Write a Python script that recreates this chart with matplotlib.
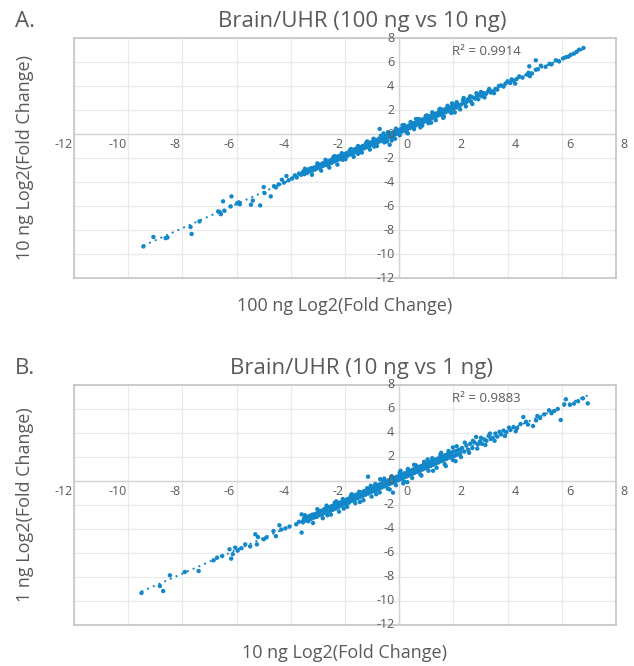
import matplotlib
matplotlib.use("Agg")
import matplotlib.pyplot as plt
import numpy as np

plt.rcParams['font.family'] = ['Open Sans', 'DejaVu Sans']

# ---- data: (100 ng, 10 ng) log2 fold changes ----
panel_a_points = [
    # lower tail
    (-9.44, -9.37), (-9.07, -8.58), (-8.62, -8.68), (-8.55, -8.62), (-7.70, -7.75),
    (-7.66, -8.33), (-7.37, -7.28), (-6.68, -6.45), (-6.62, -6.52), (-6.58, -6.68),
    (-6.50, -5.61), (-6.45, -6.40), (-6.19, -5.20), (-6.22, -6.03), (-5.98, -5.78),
    (-5.92, -5.70), (-5.88, -5.85), (-5.47, -5.89), (-5.40, -5.55), (-5.13, -5.95),
    (-5.00, -4.42), (-4.97, -4.92), (-4.74, -5.20), (-4.62, -4.35), (-4.55, -4.45),
    (-4.45, -4.20), (-4.33, -3.81), (-4.25, -4.05), (-4.16, -3.50), (-4.08, -3.85),
    (-3.95, -3.70), (-3.85, -3.45), (-3.78, -3.62), (-3.70, -3.30),
    # dense band
    (-3.62, -3.40), (-3.55, -3.15), (-3.50, -3.35), (-3.45, -3.10), (-3.40, -3.25),
    (-3.35, -2.95), (-3.30, -3.10), (-3.25, -2.85), (-3.20, -3.05), (-3.15, -2.80),
    (-3.10, -2.95), (-3.05, -2.70), (-3.00, -2.85), (-2.95, -2.55), (-2.90, -2.75),
    (-2.85, -2.50), (-2.80, -2.65), (-2.75, -2.40), (-2.70, -2.55), (-2.65, -2.30),
    (-2.60, -2.50), (-2.55, -2.20), (-2.50, -2.40), (-2.45, -2.05), (-2.40, -2.30),
    (-2.35, -2.00), (-2.30, -2.20), (-2.25, -1.85), (-2.20, -2.10), (-2.15, -1.80),
    (-2.10, -1.95), (-2.05, -1.70), (-2.00, -1.85), (-1.95, -1.60), (-1.90, -1.80),
    (-1.85, -1.50), (-1.80, -1.70), (-1.75, -1.40), (-1.70, -1.60), (-1.65, -1.30),
    (-1.60, -1.50), (-1.55, -1.20), (-1.50, -1.40), (-1.45, -1.10), (-1.40, -1.30),
    (-1.35, -1.00), (-1.30, -1.20), (-1.25, -0.90), (-1.20, -1.10), (-1.15, -0.80),
    (-1.10, -1.00), (-1.05, -0.70), (-1.00, -0.90), (-0.95, -0.60), (-0.90, -0.80),
    (-0.85, -0.50), (-0.80, -0.70), (-0.75, -0.40), (-0.70, -0.60), (-0.65, -0.30),
    (-0.60, -0.50), (-0.55, -0.20), (-0.50, -0.40), (-0.45, -0.10), (-0.40, -0.30),
    (-0.35, 0.00), (-0.30, -0.20), (-0.25, 0.10), (-0.20, -0.10), (-0.15, 0.20),
    (-0.10, 0.00), (-0.05, 0.30), (0.00, 0.10), (0.05, 0.40), (0.10, 0.20),
    (0.15, 0.50), (0.20, 0.30), (0.25, 0.60), (0.30, 0.40), (0.35, 0.70),
    (0.40, 0.50), (0.45, 0.80), (0.50, 0.60), (0.55, 0.90), (0.60, 0.70),
    (0.65, 1.00), (0.70, 0.80), (0.75, 1.10), (0.80, 0.90), (0.85, 1.20),
    (0.90, 1.00), (0.95, 1.30), (1.00, 1.10), (1.05, 1.40), (1.10, 1.20),
    (1.15, 1.50), (1.20, 1.30), (1.25, 1.60), (1.30, 1.40), (1.35, 1.70),
    (1.40, 1.50), (1.45, 1.80), (1.50, 1.60), (1.55, 1.90), (1.60, 1.70),
    (1.65, 2.00), (1.70, 1.80), (1.75, 2.10), (1.80, 1.90), (1.85, 2.20),
    (1.90, 2.00), (1.95, 2.30), (2.00, 2.10), (2.05, 2.40), (2.10, 2.20),
    (2.15, 2.50), (2.20, 2.30),
    (-2.48, -2.20), (-2.32, -2.15), (-2.18, -1.95), (-2.02, -1.90), (-1.88, -1.62),
    (-1.72, -1.45), (-1.58, -1.35), (-1.42, -1.25), (-1.28, -1.05), (-1.12, -0.92),
    (-0.98, -0.75), (-0.82, -0.62), (-0.68, -0.42), (-0.52, -0.30), (-0.38, -0.12),
    (-0.22, 0.05), (-0.08, 0.15), (0.08, 0.32), (0.22, 0.45), (0.38, 0.62),
    (0.52, 0.75), (0.68, 0.88), (0.82, 1.05), (0.98, 1.22), (1.12, 1.35),
    (1.28, 1.52), (1.42, 1.65), (1.58, 1.82), (1.72, 1.95), (1.88, 2.12),
    (-2.62, -2.65), (-2.38, -1.85), (-2.08, -2.15), (-1.78, -1.25), (-1.52, -1.65),
    (-1.18, -0.62), (-0.92, -1.05), (-0.58, 0.05), (-0.72, 0.42), (-0.35, -0.90),
    (-0.45, -0.62), (-0.28, -0.55), (-0.15, -0.40), (0.12, 0.72), (0.32, 0.05),
    (0.62, 1.25), (0.78, 0.55), (1.02, 1.55), (1.18, 0.95), (1.48, 2.05),
    (1.62, 1.35), (1.95, 2.55), (2.05, 1.80),
    (-3.48, -2.90), (-3.22, -3.40), (-3.02, -2.45), (-2.88, -3.05), (-2.72, -2.15),
    (-2.58, -2.80), (-2.42, -1.90), (-2.28, -2.55), (-2.12, -1.60), (-1.98, -2.10),
    (-1.82, -1.35), (-1.68, -1.90), (-1.52, -1.00), (-1.38, -1.55), (-1.22, -0.75),
    (-1.08, -1.30), (-0.95, -0.40), (-0.82, -1.00), (-0.68, -0.15), (-0.55, -0.70),
    (-0.42, 0.15), (-0.25, -0.35), (-0.12, 0.45), (0.02, -0.10), (0.18, 0.75),
    (0.28, 0.15), (0.42, 1.00), (0.55, 0.40), (0.72, 1.25), (0.85, 0.70),
    (0.98, 1.50), (1.08, 0.90), (1.22, 1.80), (1.35, 1.15), (1.52, 2.10),
    (1.65, 1.45), (1.78, 2.35), (1.92, 1.75), (2.12, 2.65), (2.25, 2.05),
    (-0.88, -0.55), (-0.62, -0.25), (-0.32, 0.05), (0.12, 0.45), (0.48, 0.85),
    (0.92, 1.15), (1.32, 1.60), (1.68, 2.05), (-1.62, -1.25), (-2.22, -1.85),
    (-2.82, -2.45),
    # upper tail
    (2.28, 2.45), (2.35, 2.80), (2.42, 2.55), (2.50, 2.70), (2.53, 2.86),
    (2.58, 2.95), (2.65, 2.70), (2.72, 3.05), (2.80, 2.95), (2.88, 3.20),
    (2.96, 3.28), (3.05, 3.15), (3.12, 3.40), (3.20, 3.35), (3.28, 3.55),
    (3.38, 3.45), (3.45, 3.55), (3.55, 3.75), (3.62, 3.70), (3.76, 4.05),
    (3.85, 3.95), (4.00, 4.39), (4.10, 4.25), (4.22, 4.45), (4.33, 4.58),
    (4.43, 4.80), (4.55, 4.70), (4.72, 4.95), (4.77, 5.10), (4.80, 5.64),
    (4.82, 4.82), (4.90, 5.05), (5.04, 6.14), (5.04, 5.36), (5.12, 5.40),
    (5.23, 5.69), (5.40, 5.60), (5.55, 5.85), (5.62, 5.80), (5.78, 6.14),
    (5.90, 6.05), (6.05, 6.30), (6.15, 6.40), (6.25, 6.45), (6.33, 6.60),
    (6.45, 6.70), (6.55, 6.85), (6.64, 7.03), (6.80, 7.17),
    (2.38, 3.00), (2.46, 2.30), (2.62, 3.15), (2.70, 2.50), (2.85, 3.40),
    (2.92, 2.90), (3.02, 3.50), (3.15, 3.05), (3.32, 3.75), (3.50, 3.40),
    (3.68, 4.00), (3.92, 4.20), (4.15, 4.55), (4.28, 4.20),
]

# ---- (10 ng, 1 ng) log2 fold changes ----
panel_b_points = [
    # lower tail
    (-9.51, -9.33), (-8.83, -8.75), (-8.71, -9.17), (-8.46, -7.86), (-7.91, -7.58),
    (-7.40, -7.50), (-6.85, -6.61), (-6.72, -6.39), (-6.53, -6.25), (-6.26, -5.69),
    (-6.20, -6.47), (-6.14, -6.10), (-6.05, -5.55), (-5.96, -5.80), (-5.82, -5.60),
    (-5.68, -5.28), (-5.50, -5.45), (-5.31, -4.44), (-5.25, -5.28), (-5.21, -4.67),
    (-5.00, -4.86), (-4.90, -4.70), (-4.64, -4.17), (-4.55, -4.60), (-4.42, -3.69),
    (-4.35, -4.05), (-4.20, -3.95), (-4.05, -3.80), (-3.80, -3.61), (-3.70, -3.40),
    (-3.60, -2.78), (-3.60, -4.30), (-3.52, -3.20),
    # dense band
    (-3.55, -3.45), (-3.50, -3.10), (-3.45, -3.30), (-3.40, -3.00), (-3.35, -3.35),
    (-3.30, -2.90), (-3.25, -3.15), (-3.20, -2.80), (-3.15, -3.05), (-3.10, -2.75),
    (-3.05, -3.00), (-3.00, -2.60), (-2.95, -2.85), (-2.90, -2.50), (-2.85, -2.80),
    (-2.80, -2.40), (-2.75, -2.65), (-2.70, -2.30), (-2.65, -2.55), (-2.60, -2.20),
    (-2.55, -2.50), (-2.50, -2.10), (-2.45, -2.40), (-2.40, -2.00), (-2.35, -2.30),
    (-2.30, -1.90), (-2.25, -2.20), (-2.20, -1.80), (-2.15, -2.05), (-2.10, -1.70),
    (-2.05, -1.95), (-2.00, -1.60), (-1.95, -1.90), (-1.90, -1.50), (-1.85, -1.80),
    (-1.80, -1.35), (-1.75, -1.65), (-1.70, -1.30), (-1.65, -1.55), (-1.60, -1.15),
    (-1.55, -1.45), (-1.50, -1.05), (-1.45, -1.35), (-1.40, -0.95), (-1.35, -1.25),
    (-1.30, -0.85), (-1.25, -1.15), (-1.20, -0.75), (-1.15, -1.05), (-1.10, -0.65),
    (-1.05, -0.95), (-1.00, -0.55), (-0.95, -0.85), (-0.90, -0.45), (-0.85, -0.75),
    (-0.80, -0.35), (-0.75, -0.65), (-0.70, -0.25), (-0.65, -0.55), (-0.60, -0.15),
    (-0.55, -0.45), (-0.50, -0.05), (-0.45, -0.35), (-0.40, 0.05), (-0.35, -0.25),
    (-0.30, 0.15), (-0.25, -0.15), (-0.20, 0.25), (-0.15, -0.05), (-0.10, 0.35),
    (-0.05, 0.05), (0.00, 0.45), (0.05, 0.15), (0.10, 0.55), (0.15, 0.25),
    (0.20, 0.65), (0.25, 0.35), (0.30, 0.75), (0.35, 0.45), (0.40, 0.85),
    (0.45, 0.55), (0.50, 0.95), (0.55, 0.65), (0.60, 1.05), (0.65, 0.75),
    (0.70, 1.15), (0.75, 0.85), (0.80, 1.25), (0.85, 0.95), (0.90, 1.35),
    (0.95, 1.05), (1.00, 1.45), (1.05, 1.15), (1.10, 1.55), (1.15, 1.25),
    (1.20, 1.65), (1.25, 1.35), (1.30, 1.75), (1.35, 1.45), (1.40, 1.85),
    (1.45, 1.55), (1.50, 1.95), (1.55, 1.65), (1.60, 2.05), (1.65, 1.75),
    (1.70, 2.15), (1.75, 1.85), (1.80, 2.25), (1.85, 1.95), (1.90, 2.35),
    (1.95, 2.05), (2.00, 2.45), (2.05, 2.10), (2.10, 2.50), (2.15, 2.20),
    (2.20, 2.60),
    (-2.42, -2.22), (-2.28, -2.08), (-2.12, -1.88), (-1.98, -1.78), (-1.82, -1.58),
    (-1.68, -1.48), (-1.52, -1.28), (-1.38, -1.12), (-1.22, -0.98), (-1.08, -0.82),
    (-0.92, -0.68), (-0.78, -0.52), (-0.62, -0.38), (-0.48, -0.22), (-0.32, -0.08),
    (-0.18, 0.08), (-0.02, 0.22), (0.12, 0.38), (0.28, 0.52), (0.42, 0.68),
    (0.58, 0.82), (0.72, 0.98), (0.88, 1.12), (1.02, 1.28), (1.18, 1.42),
    (1.32, 1.58), (1.48, 1.72), (1.62, 1.88), (1.78, 2.02), (1.92, 2.18),
    (-2.65, -2.85), (-2.32, -1.70), (-2.05, -2.30), (-1.75, -1.10), (-1.45, -1.75),
    (-1.15, 0.36), (-1.05, -0.40), (-0.85, -1.10), (-0.55, 0.20), (-0.23, -0.97),
    (-0.35, -0.70), (0.05, 0.85), (0.30, -0.10), (0.55, 1.35), (0.82, 0.45),
    (1.05, 1.80), (1.25, 0.85), (1.55, 2.35), (1.72, 1.25), (1.98, 2.80),
    (2.08, 1.65), (0.15, -0.20), (-0.70, 0.15),
    (-3.48, -2.85), (-3.18, -3.50), (-3.02, -2.35), (-2.82, -3.10), (-2.68, -2.05),
    (-2.52, -2.80), (-2.38, -1.80), (-2.22, -2.55), (-2.08, -1.50), (-1.92, -2.15),
    (-1.78, -1.20), (-1.62, -1.85), (-1.48, -0.90), (-1.32, -1.60), (-1.18, -0.60),
    (-1.02, -1.30), (-0.88, -0.25), (-0.72, -0.95), (-0.58, 0.05), (-0.42, -0.65),
    (-0.28, 0.40), (-0.12, -0.35), (0.02, 0.70), (0.18, -0.05), (0.32, 1.00),
    (0.48, 0.25), (0.62, 1.30), (0.78, 0.55), (0.92, 1.60), (1.08, 0.85),
    (1.22, 1.90), (1.38, 1.10), (1.52, 2.20), (1.68, 1.40), (1.82, 2.50),
    (1.98, 1.75), (-0.95, -0.50), (-0.65, -0.35), (-0.38, -0.05), (0.08, 0.30),
    (0.38, 0.60), (0.70, 0.95), (1.12, 1.40), (1.42, 1.75), (1.85, 2.10),
    (-1.55, -1.20), (-2.15, -1.95), (-2.75, -2.35),
    # upper tail
    (2.25, 2.30), (2.32, 2.75), (2.40, 2.45), (2.48, 2.95), (2.55, 2.60),
    (2.62, 3.10), (2.70, 2.75), (2.78, 3.20), (2.84, 3.67), (2.90, 3.05),
    (2.98, 3.30), (3.05, 3.10), (3.14, 3.47), (3.22, 3.35), (3.30, 3.75),
    (3.38, 3.50), (3.45, 3.60), (3.55, 3.95), (3.62, 3.70), (3.76, 3.89),
    (3.85, 4.20), (3.95, 4.05), (4.10, 4.25), (4.22, 4.50), (4.35, 4.40),
    (4.48, 4.75), (4.58, 5.33), (4.68, 4.94), (4.75, 4.70), (4.94, 4.58),
    (5.05, 5.05), (5.10, 5.42), (5.20, 5.25), (5.35, 5.55), (5.53, 5.89),
    (5.62, 5.65), (5.72, 5.83), (5.85, 6.00), (5.96, 5.08), (6.09, 6.39),
    (6.15, 6.81), (6.30, 6.35), (6.45, 6.45), (6.60, 6.65), (6.78, 6.89),
    (6.96, 6.47),
    (2.12, 2.90), (2.28, 2.00), (2.42, 3.20), (2.58, 2.35), (2.72, 3.35),
    (2.88, 2.70), (3.02, 3.60), (3.18, 3.00), (3.35, 3.95), (3.52, 3.35),
    (3.70, 4.10), (3.90, 3.75), (4.05, 4.45), (4.30, 4.15),
]

titles = ["Brain/UHR (100 ng vs 10 ng)", "Brain/UHR (10 ng vs 1 ng)"]
panel_tags = ["A.", "B."]
x_labels = ["100 ng Log2(Fold Change)", "10 ng Log2(Fold Change)"]
y_labels = ["10 ng Log2(Fold Change)", "1 ng Log2(Fold Change)"]
r2_labels = ["R\u00b2 = 0.9914", "R\u00b2 = 0.9883"]
ticks = [-12, -10, -8, -6, -4, -2, 0, 2, 4, 6, 8]

BLUE = "#1287c9"
GREY = "#5a5a5a"
W, H = 634, 666

fig = plt.figure(figsize=(W / 100, H / 100), dpi=100)

# axes boxes in pixels: (left, top, right, bottom)
boxes = [(74, 38, 616, 278), (74, 385, 616, 625)]


def draw_panel(ax, pts, r2):
    x = np.array([p[0] for p in pts])
    y = np.array([p[1] for p in pts])
    ax.set_xlim(-12, 8)
    ax.set_ylim(-12, 8)
    ax.set_xticks(ticks)
    ax.set_yticks(ticks)
    ax.tick_params(length=0, labelbottom=False, labelleft=False)
    ax.grid(color="#e9e9e9", lw=0.9, zorder=0)
    ax.set_axisbelow(True)
    for s in ax.spines.values():
        s.set_color("#c4c4c4")
        s.set_linewidth(1.2)
    # axis lines through the origin like the Excel chart
    ax.axhline(0, color="#d4d4d4", lw=1.0, zorder=1)
    ax.axvline(0, color="#d4d4d4", lw=1.0, zorder=1)

    # linear trendline
    k, b = np.polyfit(x, y, 1)
    xx = np.array([x.min(), x.max()])
    ax.plot(xx, k * xx + b, color=BLUE, lw=1.4, ls=(0, (1, 2.2)), zorder=2)
    ax.scatter(x, y, s=10, color=BLUE, edgecolors="none", zorder=3)

    for t in ticks:
        if t < 0:
            ax.annotate(str(t), (t, 0), xytext=(-1, -3), textcoords="offset points",
                        ha="right", va="top", fontsize=9, color=GREY, zorder=4)
        else:
            ax.annotate(str(t), (t, 0), xytext=(3, -3), textcoords="offset points",
                        ha="left", va="top", fontsize=9, color=GREY, zorder=4)
        ax.annotate(str(t), (0, t), xytext=(-3.5, 0), textcoords="offset points",
                    ha="right", va="center", fontsize=9, color=GREY, zorder=4,
                    annotation_clip=False)
    ax.text(3.22, 6.62, r2, ha="center", va="baseline", fontsize=9.5, color=GREY)


all_pts = [panel_a_points, panel_b_points]
for i, (l, t, r, btm) in enumerate(boxes):
    ax = fig.add_axes([l / W, 1 - btm / H, (r - l) / W, (btm - t) / H])
    ax.patch.set_alpha(0)
    draw_panel(ax, all_pts[i], r2_labels[i])
    # title + panel tag
    fig.text(362 / W, 1 - (t - 11) / H, titles[i], ha="center", va="baseline",
             fontsize=16, color=GREY)
    fig.text(15 / W, 1 - (t - 11) / H, panel_tags[i], ha="left", va="baseline",
             fontsize=16, color=GREY)
    fig.text(345 / W, 1 - (btm + 33) / H, x_labels[i], ha="center", va="baseline",
             fontsize=13, color=GREY)
    fig.text(25 / W, 1 - ((t + btm) / 2) / H, y_labels[i], ha="center", va="center",
             rotation=90, fontsize=13, color=GREY)

fig.savefig("out.png", dpi=100)
